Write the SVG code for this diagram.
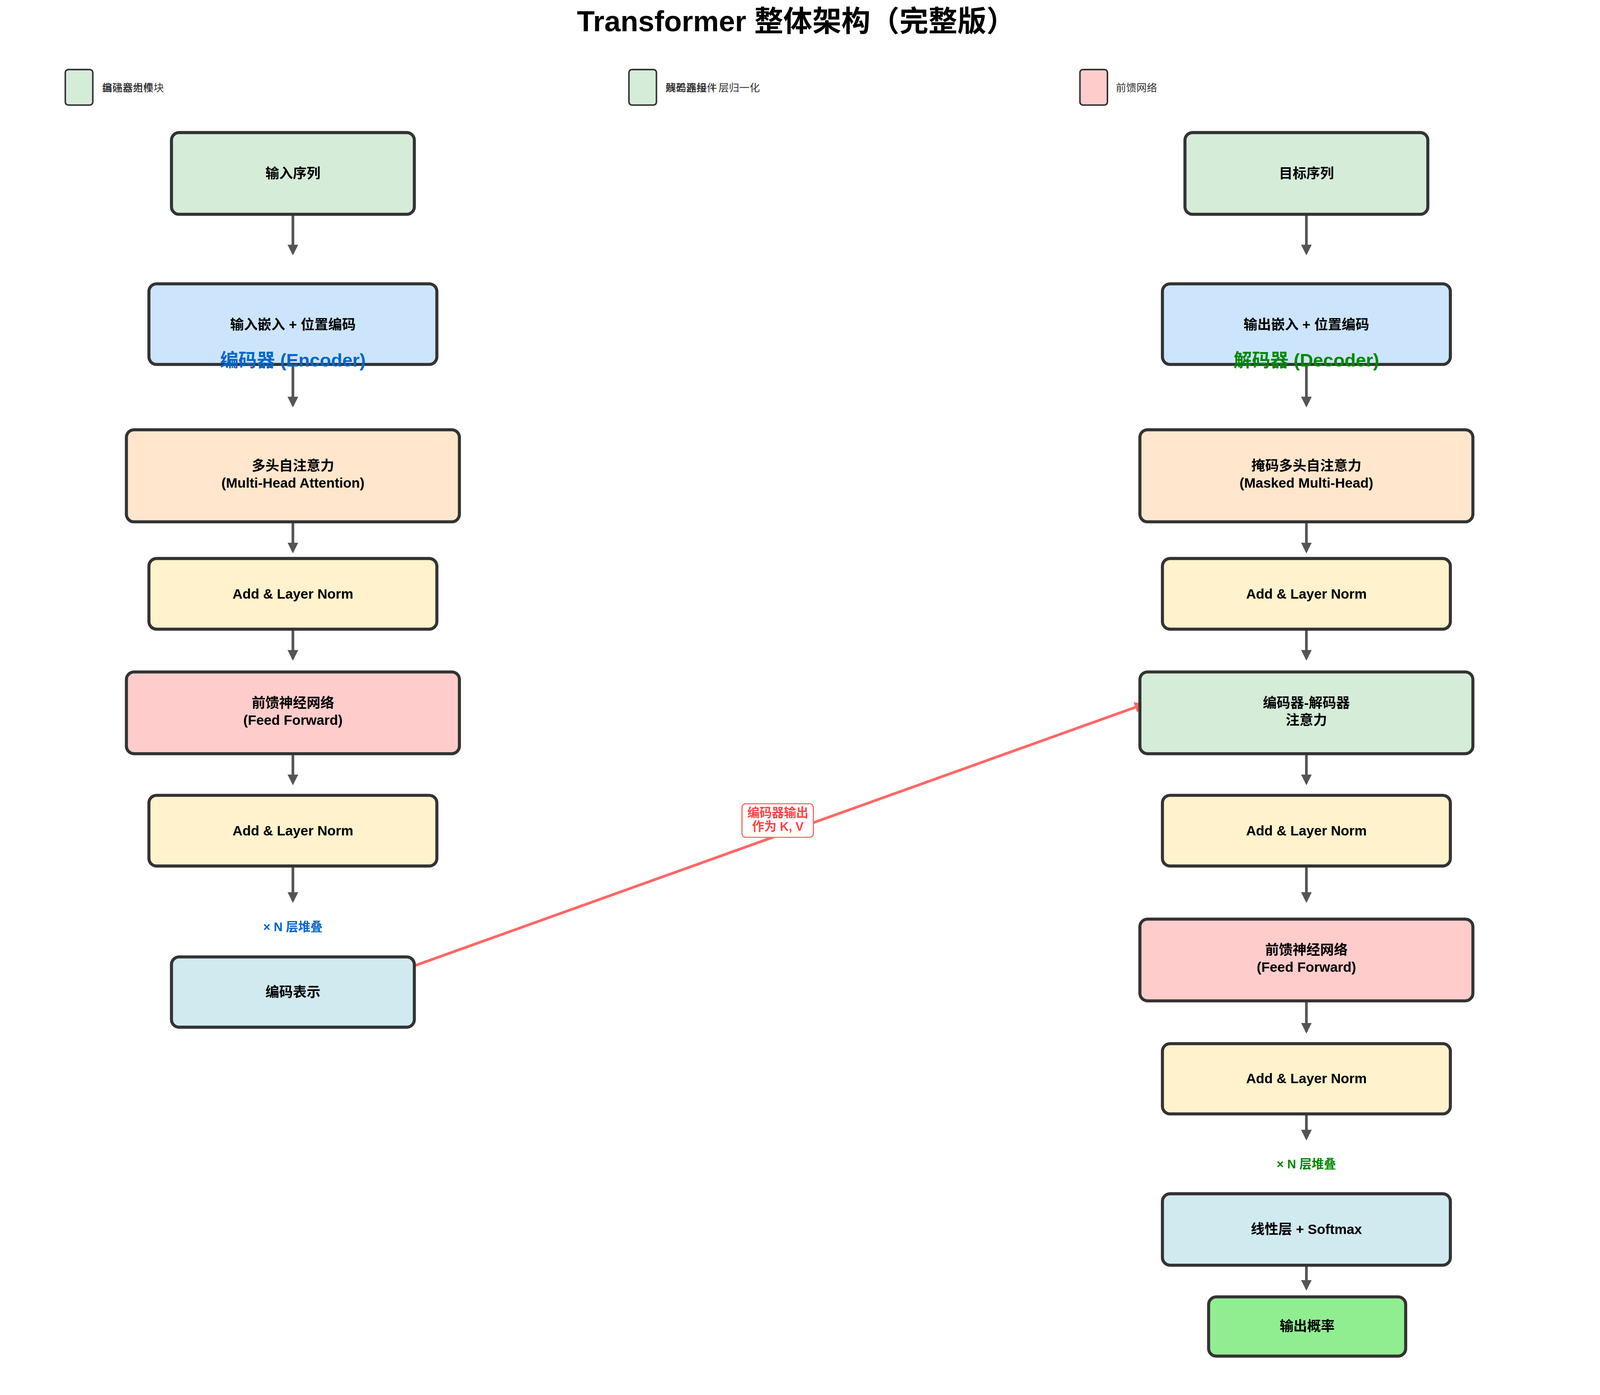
<svg xmlns="http://www.w3.org/2000/svg" width="4170" height="3570" viewBox="0 0 4170 3570">
<defs>
<marker id="ah" viewBox="0 0 10 10" refX="8" refY="5" markerWidth="4" markerHeight="4" orient="auto"><path d="M0,0 L10,5 L0,10 z" fill="#555"/></marker>
<marker id="ahr" viewBox="0 0 10 10" refX="8" refY="5" markerWidth="4" markerHeight="4" orient="auto"><path d="M0,0 L10,5 L0,10 z" fill="#ff6666"/></marker>
<style>
.n{stroke:#333;stroke-width:8}
.t{font-family:"Liberation Sans","Noto Sans CJK SC",sans-serif;font-weight:bold;font-size:36px;fill:#000;text-anchor:middle}
.lg{font-family:"Liberation Sans","Noto Sans CJK SC",sans-serif;font-size:27px;fill:#333}
.a{stroke:#555;stroke-width:7;fill:none;marker-end:url(#ah)}
.g{fill:#d5ecd9}.b{fill:#cce5fc}.o{fill:#ffe6cc}.y{fill:#fff2cc}.r{fill:#ffcccc}.c{fill:#d0eaf0}.p{fill:#90ee90}
</style>
</defs>
<rect width="4170" height="3570" fill="#fff"/>
<g transform="scale(0.9776)">
<text x="2085" y="82" class="t" style="font-size:76px">Transformer 整体架构（完整版）</text>
<g id="legend">
<rect x="171" y="182" width="72" height="93" rx="8" class="g" stroke="#333" stroke-width="4"/>
<text x="267" y="239" class="lg">编码器组件</text><text x="267" y="239" class="lg">自注意力模块</text>
<rect x="1647" y="182" width="72" height="93" rx="8" class="g" stroke="#333" stroke-width="4"/>
<text x="1743" y="239" class="lg">解码器组件</text><text x="1743" y="239" class="lg">残差连接 + 层归一化</text>
<rect x="2828" y="182" width="72" height="93" rx="8" class="r" stroke="#333" stroke-width="4"/>
<text x="2922" y="239" class="lg">前馈网络</text>
</g>
<g id="connectors">
<line x1="767" y1="548" x2="767" y2="663" class="a"/>
<line x1="767" y1="954" x2="767" y2="1061" class="a"/>
<line x1="767" y1="1350" x2="767" y2="1443" class="a"/>
<line x1="767" y1="1633" x2="767" y2="1724" class="a"/>
<line x1="767" y1="1957" x2="767" y2="2050" class="a"/>
<line x1="767" y1="2253" x2="767" y2="2358" class="a"/>
<line x1="3421" y1="548" x2="3421" y2="663" class="a"/>
<line x1="3421" y1="954" x2="3421" y2="1061" class="a"/>
<line x1="3421" y1="1350" x2="3421" y2="1443" class="a"/>
<line x1="3421" y1="1633" x2="3421" y2="1724" class="a"/>
<line x1="3421" y1="1957" x2="3421" y2="2050" class="a"/>
<line x1="3421" y1="2253" x2="3421" y2="2358" class="a"/>
<line x1="3421" y1="2606" x2="3421" y2="2700" class="a"/>
<line x1="3421" y1="2903" x2="3421" y2="2980" class="a"/>
<line x1="3421" y1="3296" x2="3421" y2="3373" class="a"/>
<line x1="1069" y1="2534" x2="2994" y2="1844" stroke="#ff6666" stroke-width="7" marker-end="url(#ahr)"/>
<rect x="1943" y="2104" width="187" height="88" rx="10" fill="#fff" stroke="#ff6666" stroke-width="3"/>
<text x="2037" y="2139" class="t" style="font-size:32px;fill:#ff4444">编码器输出</text>
<text x="2037" y="2175" class="t" style="font-size:32px;fill:#ff4444">作为 K, V</text>
</g>
<g id="enc-in"><rect x="449" y="347" width="636" height="214" rx="20" class="n g"/><text x="767" y="466" class="t">输入序列</text></g>
<g id="enc-emb"><rect x="390" y="743" width="754" height="211" rx="20" class="n b"/><text x="767" y="862" class="t">输入嵌入 + 位置编码</text></g>
<g id="enc-label"><text x="767" y="960" class="t" style="font-size:48px;fill:#0066cc">编码器 (Encoder)</text></g>
<g id="enc-mha"><rect x="331" y="1125" width="872" height="241" rx="20" class="n o"/><text x="767" y="1232" class="t">多头自注意力</text><text x="767" y="1277" class="t">(Multi-Head Attention)</text></g>
<g id="enc-an1"><rect x="390" y="1462" width="754" height="185" rx="20" class="n y"/><text x="767" y="1567" class="t">Add &amp; Layer Norm</text></g>
<g id="enc-ff"><rect x="331" y="1759" width="872" height="214" rx="20" class="n r"/><text x="767" y="1852" class="t">前馈神经网络</text><text x="767" y="1897" class="t">(Feed Forward)</text></g>
<g id="enc-an2"><rect x="390" y="2082" width="754" height="185" rx="20" class="n y"/><text x="767" y="2187" class="t">Add &amp; Layer Norm</text></g>
<g id="enc-n"><text x="767" y="2438" class="t" style="font-size:32px;fill:#0066cc">× N 层堆叠</text></g>
<g id="enc-out"><rect x="449" y="2505" width="636" height="184" rx="20" class="n c"/><text x="767" y="2609" class="t">编码表示</text></g>
<g id="dec-in"><rect x="3103" y="347" width="636" height="214" rx="20" class="n g"/><text x="3421" y="466" class="t">目标序列</text></g>
<g id="dec-emb"><rect x="3044" y="743" width="754" height="211" rx="20" class="n b"/><text x="3421" y="862" class="t">输出嵌入 + 位置编码</text></g>
<g id="dec-label"><text x="3421" y="960" class="t" style="font-size:48px;fill:#008800">解码器 (Decoder)</text></g>
<g id="dec-mha"><rect x="2985" y="1125" width="872" height="241" rx="20" class="n o"/><text x="3421" y="1232" class="t">掩码多头自注意力</text><text x="3421" y="1277" class="t">(Masked Multi-Head)</text></g>
<g id="dec-an1"><rect x="3044" y="1462" width="754" height="185" rx="20" class="n y"/><text x="3421" y="1567" class="t">Add &amp; Layer Norm</text></g>
<g id="dec-cross"><rect x="2985" y="1759" width="872" height="214" rx="20" class="n g"/><text x="3421" y="1852" class="t">编码器-解码器</text><text x="3421" y="1897" class="t">注意力</text></g>
<g id="dec-an2"><rect x="3044" y="2082" width="754" height="185" rx="20" class="n y"/><text x="3421" y="2187" class="t">Add &amp; Layer Norm</text></g>
<g id="dec-ff"><rect x="2985" y="2406" width="872" height="214" rx="20" class="n r"/><text x="3421" y="2499" class="t">前馈神经网络</text><text x="3421" y="2544" class="t">(Feed Forward)</text></g>
<g id="dec-an3"><rect x="3044" y="2732" width="754" height="184" rx="20" class="n y"/><text x="3421" y="2836" class="t">Add &amp; Layer Norm</text></g>
<g id="dec-n"><text x="3421" y="3058" class="t" style="font-size:32px;fill:#008800">× N 层堆叠</text></g>
<g id="dec-lin"><rect x="3044" y="3125" width="754" height="187" rx="20" class="n c"/><text x="3421" y="3230" class="t">线性层 + Softmax</text></g>
<g id="dec-out"><rect x="3165" y="3395" width="516" height="155" rx="20" class="n p"/><text x="3423" y="3484" class="t">输出概率</text></g>
</g>
</svg>
